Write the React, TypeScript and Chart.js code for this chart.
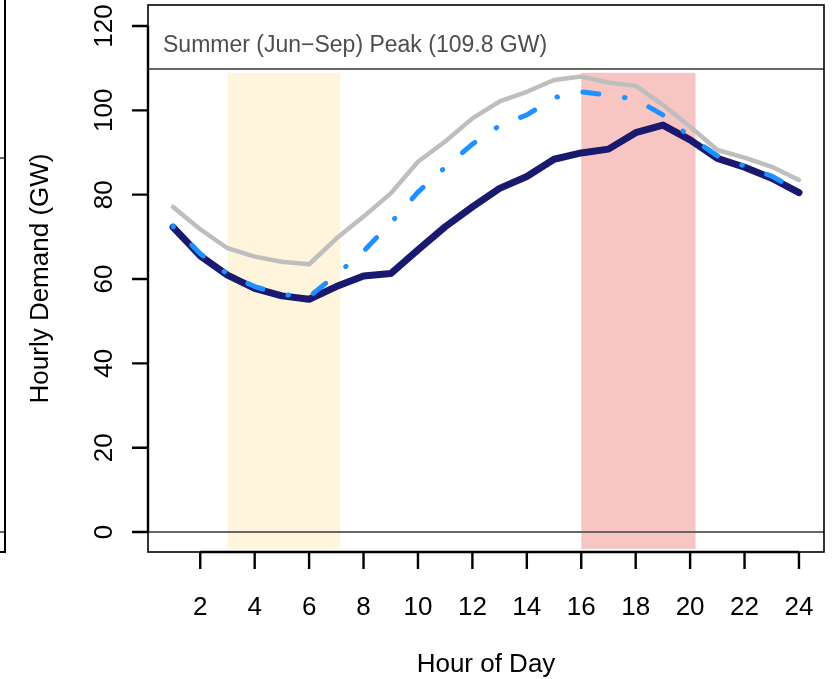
import { useEffect, useRef } from "react";
import { Chart, registerables } from "chart.js";

Chart.register(...registerables);

// Hourly load profiles (GW) for hours 1..24
const hours = [1, 2, 3, 4, 5, 6, 7, 8, 9, 10, 11, 12, 13, 14, 15, 16, 17, 18, 19, 20, 21, 22, 23, 24];
const peakDayDemand = [77.1, 71.8, 67.3, 65.3, 64.1, 63.5, 69.6, 74.8, 80.3, 87.8, 92.6, 98.1, 102.1, 104.4, 107.2, 108.0, 106.6, 105.8, 101.3, 96.1, 90.6, 88.8, 86.6, 83.5];
const typicalDemand = [72.3, 65.5, 60.9, 57.8, 56.0, 55.2, 58.2, 60.7, 61.3, 66.9, 72.4, 77.1, 81.5, 84.3, 88.4, 89.9, 90.8, 94.7, 96.5, 93.0, 88.6, 86.5, 83.9, 80.5];
const highDayDemand = [72.5, 66.0, 61.2, 58.2, 56.3, 55.8, 61.0, 66.6, 73.3, 80.6, 86.5, 92.0, 96.4, 98.9, 103.0, 104.4, 103.6, 102.6, 98.9, 93.7, 89.2, 86.8, 84.4, 80.8];

const xTicks = [2, 4, 6, 8, 10, 12, 14, 16, 18, 20, 22, 24];
const yTicks = [0, 20, 40, 60, 80, 100, 120];

const summerPeak = 109.8;
const peakLabel = `Summer (Jun\u2212Sep) Peak (${summerPeak} GW)`;

// Shaded hour windows: [start, end]
const offPeakWindow = [3, 7.15];
const onPeakWindow = [16, 20.2];
const windowRange = [-4, 108.9];

const FONT = '"Liberation Sans", Arial, Helvetica, sans-serif';

const baseFramePlugin = {
  id: "baseFrame",
  beforeDatasetsDraw(chart: any) {
    const { ctx, chartArea: a, scales } = chart;
    const x = scales.x;
    const y = scales.y;
    ctx.save();

    const top = y.getPixelForValue(windowRange[1]);
    const bottom = y.getPixelForValue(windowRange[0]);
    const bands: [number[], string][] = [
      [offPeakWindow, "#FFF5DC"],
      [onPeakWindow, "#F7C6C3"],
    ];
    for (const [w, color] of bands) {
      const x0 = x.getPixelForValue(w[0]);
      const x1 = x.getPixelForValue(w[1]);
      ctx.fillStyle = color;
      ctx.fillRect(x0, top, x1 - x0, bottom - top);
    }

    ctx.strokeStyle = "#666666";
    ctx.lineWidth = 2;
    for (const v of [0, summerPeak]) {
      const py = Math.round(y.getPixelForValue(v));
      ctx.beginPath();
      ctx.moveTo(a.left, py);
      ctx.lineTo(a.right, py);
      ctx.stroke();
    }

    ctx.fillStyle = "#4d4d4d";
    ctx.font = `23px ${FONT}`;
    ctx.textAlign = "left";
    ctx.textBaseline = "alphabetic";
    ctx.fillText(peakLabel, a.left + 15, y.getPixelForValue(summerPeak) - 17);
    ctx.restore();
  },
  afterDraw(chart: any) {
    const { ctx, chartArea: a, scales } = chart;
    const x = scales.x;
    const y = scales.y;
    ctx.save();
    ctx.strokeStyle = "#000";
    ctx.fillStyle = "#000";

    // box
    ctx.lineWidth = 1.6;
    ctx.strokeRect(a.left, a.top, a.right - a.left, a.bottom - a.top);

    // y axis
    ctx.lineWidth = 2.4;
    ctx.beginPath();
    ctx.moveTo(a.left, y.getPixelForValue(yTicks[yTicks.length - 1]));
    ctx.lineTo(a.left, y.getPixelForValue(yTicks[0]));
    for (const t of yTicks) {
      const py = y.getPixelForValue(t);
      ctx.moveTo(a.left - 16, py);
      ctx.lineTo(a.left, py);
    }
    ctx.stroke();

    ctx.font = `26px ${FONT}`;
    ctx.textAlign = "center";
    ctx.textBaseline = "alphabetic";
    for (const t of yTicks) {
      const py = y.getPixelForValue(t);
      ctx.save();
      ctx.translate(a.left - 36, py);
      ctx.rotate(-Math.PI / 2);
      ctx.fillText(String(t), 0, 0);
      ctx.restore();
    }

    // x axis
    ctx.beginPath();
    ctx.moveTo(x.getPixelForValue(xTicks[0]), a.bottom);
    ctx.lineTo(x.getPixelForValue(xTicks[xTicks.length - 1]), a.bottom);
    for (const t of xTicks) {
      const px = x.getPixelForValue(t);
      ctx.moveTo(px, a.bottom);
      ctx.lineTo(px, a.bottom + 17);
    }
    ctx.stroke();

    for (const t of xTicks) {
      ctx.fillText(String(t), x.getPixelForValue(t), a.bottom + 63);
    }

    // axis titles
    ctx.fillText("Hour of Day", (a.left + a.right) / 2, a.bottom + 120);
    ctx.save();
    ctx.translate(a.left - 100, (a.top + a.bottom) / 2);
    ctx.rotate(-Math.PI / 2);
    ctx.fillText("Hourly Demand (GW)", 0, 0);
    ctx.restore();

    ctx.restore();
  },
};

function toPoints(values: number[]) {
  return hours.map((h, i) => ({ x: h, y: values[i] }));
}

export default function App() {
  const canvasRef = useRef<HTMLCanvasElement | null>(null);

  useEffect(() => {
    const canvas = canvasRef.current;
    if (!canvas) return;
    const chart = new Chart(canvas, {
      type: "line",
      data: {
        datasets: [
          {
            label: "High day",
            data: toPoints(highDayDemand),
            borderColor: "#1E90FF",
            borderWidth: 5,
            borderDash: [0.5, 26, 16, 26],
            borderCapStyle: "round",
            borderJoinStyle: "round",
            pointRadius: 0,
            tension: 0,
          },
          {
            label: "Typical day",
            data: toPoints(typicalDemand),
            borderColor: "#191970",
            borderWidth: 7,
            borderCapStyle: "round",
            borderJoinStyle: "round",
            pointRadius: 0,
            tension: 0,
          },
          {
            label: "Peak day",
            data: toPoints(peakDayDemand),
            borderColor: "#BEBEBE",
            borderWidth: 4.5,
            borderCapStyle: "round",
            borderJoinStyle: "round",
            pointRadius: 0,
            tension: 0,
          },
        ],
      },
      options: {
        responsive: false,
        animation: false,
        devicePixelRatio: 1,
        layout: { padding: { left: 148, top: 5, right: 9, bottom: 127 } },
        plugins: { legend: { display: false }, tooltip: { enabled: false } },
        scales: {
          x: { type: "linear", min: 0.08, max: 24.92, display: false },
          y: { type: "linear", min: -4.74, max: 124.98, display: false },
        },
      },
      plugins: [baseFramePlugin],
    });
    return () => chart.destroy();
  }, []);

  return (
    <div style={{ position: "absolute", left: 0, top: 0, width: 833, height: 679, background: "#fff" }}>
      {/* edge of the neighbouring panel */}
      <div style={{ position: "absolute", left: 0, top: 0, width: 4, height: 551, borderRight: "2px solid #000", borderBottom: "2px solid #000" }} />
      <div style={{ position: "absolute", left: 0, top: 157, width: 4, height: 2, background: "#666" }} />
      <div style={{ position: "absolute", left: 0, top: 531, width: 4, height: 2, background: "#666" }} />
      <canvas ref={canvasRef} width={833} height={679} style={{ position: "absolute", left: 0, top: 0 }} />
    </div>
  );
}
